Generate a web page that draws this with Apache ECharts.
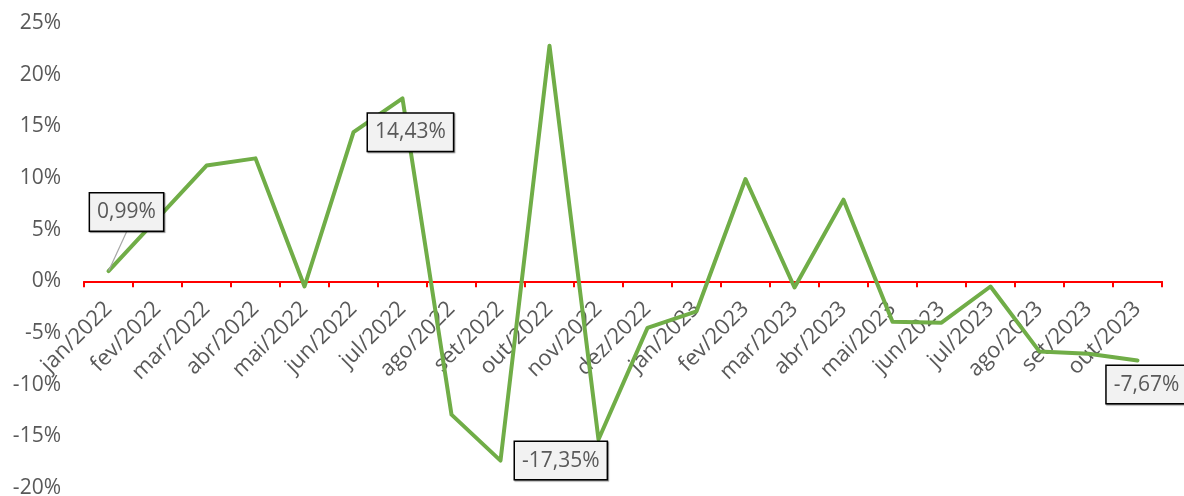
<!DOCTYPE html>
<html>
<head>
<meta charset="utf-8">
<script src="https://cdn.jsdelivr.net/npm/echarts@6/dist/echarts.min.js"></script>
<style>
html,body{margin:0;padding:0;background:#fff;}
#chart{width:1184px;height:496px;}
</style>
</head>
<body>
<div id="chart"></div>
<script>
const categories = ["jan/2022","fev/2022","mar/2022","abr/2022","mai/2022","jun/2022","jul/2022","ago/2022","set/2022","out/2022","nov/2022","dez/2022","jan/2023","fev/2023","mar/2023","abr/2023","mai/2023","jun/2023","jul/2023","ago/2023","set/2023","out/2023"];
const values = [0.99, 6.1, 11.2, 11.9, -0.5, 14.43, 17.7, -12.9, -17.35, 22.8, -15.3, -4.5, -2.9, 9.9, -0.6, 7.9, -3.9, -4.0, -0.5, -6.8, -7.0, -7.67];
const labelledIndices = [0, 5, 8, 21];
const yMin = -20, yMax = 25, yStep = 5;

const fmt = v => v.toFixed(2).replace('.', ',') + '%';

const GRID_TOP = 23, GRID_BOTTOM = 8, H = 496;
const plotH = H - GRID_TOP - GRID_BOTTOM;
const zeroOffset = plotH * (0 - yMin) / (yMax - yMin);

const labelBox = {
  show: true,
  color: '#595959',
  fontFamily: 'Open Sans',
  fontSize: 21,
  backgroundColor: '#F2F2F2',
  borderColor: '#000',
  borderWidth: 1.5,
  padding: [8, 7, 8, 7],
  shadowColor: 'rgba(0,0,0,0.45)',
  shadowOffsetX: 1,
  shadowOffsetY: 1,
  shadowBlur: 1
};
const labelPlacement = {
  0: { position: 'top', distance: 5 },
  5: { position: 'right', distance: 14 },
  8: { position: 'right', distance: 14 },
  21: { position: 'bottom', distance: 5 }
};

const seriesData = values.map((v, i) => {
  if (labelledIndices.includes(i)) {
    const item = { value: v, label: Object.assign({}, labelBox, labelPlacement[i], { formatter: fmt(v) }) };
    item.labelLine = { show: i === 0, lineStyle: { color: '#A6A6A6', width: 1.2 } };
    return item;
  }
  return { value: v, label: { show: false } };
});

const chart = echarts.init(document.getElementById('chart'));
chart.setOption({
  animation: false,
  grid: { left: 84, right: 22, top: GRID_TOP, bottom: GRID_BOTTOM, containLabel: false, outerBoundsMode: 'none' },
  xAxis: {
    type: 'category',
    data: categories,
    boundaryGap: true,
    offset: -zeroOffset,
    axisLine: { show: true, onZero: false, lineStyle: { color: '#FF0000', width: 2 } },
    axisTick: { show: true, length: 6, lineStyle: { color: '#FF0000', width: 2 } },
    axisLabel: { interval: 0, rotate: 45, margin: 24, color: '#595959', fontFamily: 'Open Sans', fontSize: 22 },
    splitLine: { show: false }
  },
  yAxis: {
    type: 'value',
    min: yMin, max: yMax, interval: yStep,
    axisLine: { show: false },
    axisTick: { show: false },
    splitLine: { show: false },
    axisLabel: { formatter: '{value}%', color: '#595959', fontFamily: 'Open Sans', fontSize: 21, margin: 23 }
  },
  series: [{
    type: 'line',
    data: seriesData,
    symbol: 'circle',
    symbolSize: 1,
    showSymbol: true,
    showAllSymbol: true,
    itemStyle: { color: 'rgba(0,0,0,0)' },
    lineStyle: { color: '#70AD47', width: 4, join: 'round', cap: 'round' },
    silent: true,
    labelLine: { show: false },
    labelLayout: function (p) {
      if (p.dataIndex === 0) return { dx: 18, dy: -35 };
      if (p.dataIndex === 21) return { dx: 9 };
      return {};
    }
  }]
});
</script>
</body>
</html>
